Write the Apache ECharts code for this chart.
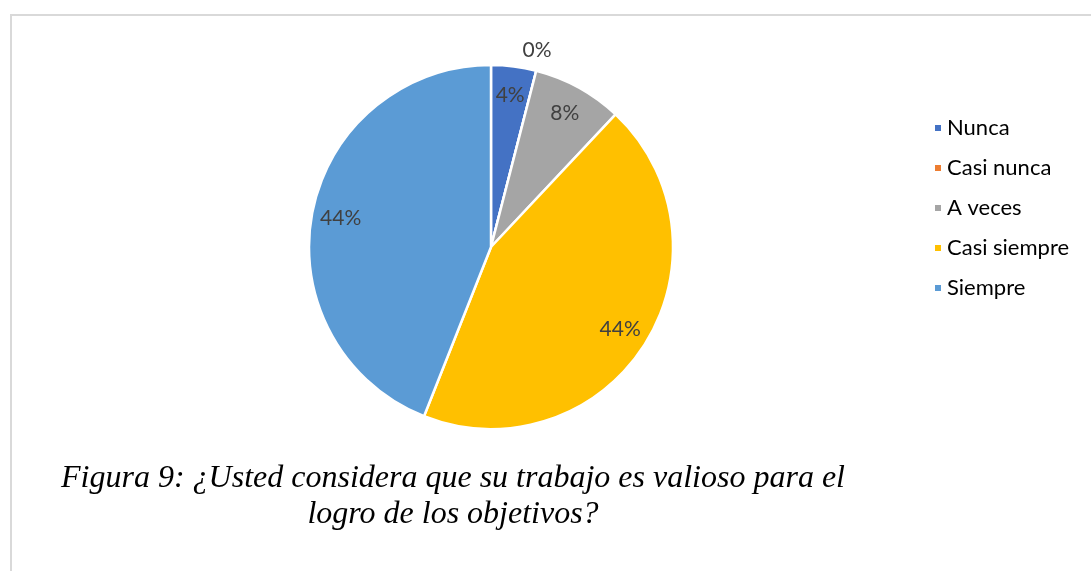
<!DOCTYPE html>
<html>
<head>
<meta charset="utf-8">
<script src="https://cdn.jsdelivr.net/npm/echarts@6/dist/echarts.min.js"></script>
<style>
  html, body { margin: 0; padding: 0; background: #fff; }
  #frame { position: absolute; left: 10px; top: 14px; right: 0; bottom: 0;
           border-left: 2px solid #d9d9d9; border-top: 2px solid #d9d9d9; }
  #main { position: absolute; left: 0; top: 0; width: 1091px; height: 571px; }
</style>
</head>
<body>
<div id="frame"></div>
<div id="main"></div>
<script>
// categorias y porcentajes
var categories = ['Nunca', 'Casi nunca', 'A veces', 'Casi siempre', 'Siempre'];
var values = [4, 0, 8, 44, 44];
var colors = ['#4472C4', '#ED7D31', '#A5A5A5', '#FFC000', '#5B9BD5'];
var titleText = 'Figura 9: ¿Usted considera que su trabajo es valioso para el\nlogro de los objetivos?';

var chart = echarts.init(document.getElementById('main'));

var pieData = categories.map(function (name, i) {
  return { name: name, value: values[i] };
});

// serie solo para las etiquetas (anillo transparente, la etiqueta cae a r=150)
var labelData = categories.map(function (name, i) {
  var item = { name: name, value: values[i] };
  if (values[i] === 0) {
    item.label = { position: 'outside', distanceToLabelLine: -19 };
    item.labelLine = { show: false, length: 21, length2: 0 };
  }
  return item;
});

var option = {
  animation: false,
  color: colors,
  title: {
    text: titleText,
    left: 448,
    top: 456,
    textAlign: 'center',
    textStyle: {
      fontFamily: 'Liberation Serif',
      fontStyle: 'italic',
      fontWeight: 'normal',
      fontSize: 32,
      lineHeight: 36,
      color: '#000'
    }
  },
  legend: {
    orient: 'vertical',
    left: 928,
    top: 112,
    icon: 'rect',
    itemWidth: 8,
    itemHeight: 8,
    itemGap: 18,
    data: categories,
    textStyle: { fontFamily: 'Lato', fontSize: 22, lineHeight: 22, color: '#000' }
  },
  series: [
    {
      type: 'pie',
      center: [491, 247],
      radius: [0, 182],
      startAngle: 90,
      clockwise: true,
      data: pieData,
      label: { show: false },
      labelLine: { show: false },
      itemStyle: { borderColor: '#fff', borderWidth: 2.5 },
      emphasis: { disabled: true }
    },
    {
      type: 'pie',
      center: [491, 247],
      radius: [118, 182],
      startAngle: 90,
      clockwise: true,
      silent: true,
      data: labelData,
      itemStyle: { color: 'transparent', borderWidth: 0 },
      label: {
        show: true,
        position: 'inside',
        formatter: function (p) { return Math.round(p.percent) + '%'; },
        fontFamily: 'Lato',
        fontSize: 21,
        color: '#404040'
      },
      labelLine: { show: false },
      emphasis: { disabled: true }
    }
  ]
};

chart.setOption(option);
</script>
</body>
</html>
